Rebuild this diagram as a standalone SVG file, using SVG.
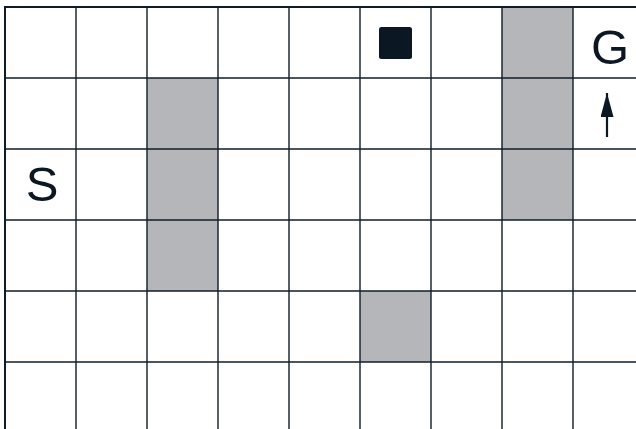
<svg xmlns="http://www.w3.org/2000/svg" width="636" height="429" viewBox="0 0 636 429">
<style>
.grid line{stroke:#0f1c28;stroke-width:1.4}
.wall{fill:#b5b6b9}
.lbl{font-family:"Liberation Sans",Arial,sans-serif;font-size:49px;fill:#0b1723;text-anchor:middle}
</style>
<defs>
<marker id="ah" viewBox="0 0 24 13" refX="24" refY="6.5" markerWidth="24" markerHeight="13" markerUnits="userSpaceOnUse" orient="auto">
<path d="M0,0 L24,6.5 L0,13 Z" fill="#0b1723"/>
</marker>
</defs>
<rect x="0" y="0" width="636" height="429" fill="#ffffff"/>
<g id="walls">
<rect class="wall" x="147" y="78" width="71" height="213"/>
<rect class="wall" x="502" y="7" width="71" height="213"/>
<rect class="wall" x="360" y="291" width="71" height="71"/>
</g>
<g class="grid" id="grid">
<line x1="5" y1="7" x2="5" y2="429" style="stroke-width:2"/>
<line x1="76" y1="7" x2="76" y2="429"/>
<line x1="147" y1="7" x2="147" y2="429"/>
<line x1="218" y1="7" x2="218" y2="429"/>
<line x1="289" y1="7" x2="289" y2="429"/>
<line x1="360" y1="7" x2="360" y2="429"/>
<line x1="431" y1="7" x2="431" y2="429"/>
<line x1="502" y1="7" x2="502" y2="429"/>
<line x1="573" y1="7" x2="573" y2="429"/>
<line x1="4" y1="7" x2="636" y2="7" style="stroke-width:2"/>
<line x1="5" y1="78" x2="636" y2="78"/>
<line x1="5" y1="149" x2="636" y2="149"/>
<line x1="5" y1="220" x2="636" y2="220"/>
<line x1="5" y1="291" x2="636" y2="291"/>
<line x1="5" y1="362" x2="636" y2="362"/>
</g>
<g id="agent">
<rect x="379" y="27" width="33" height="32" rx="2.5" fill="#0b1723"/>
</g>
<g id="start">
<text class="lbl" x="42" y="201">S</text>
</g>
<g id="goal">
<text class="lbl" x="610" y="63.5">G</text>
</g>
<g id="connectors">
<line x1="607" y1="137" x2="607" y2="93" stroke="#0b1723" stroke-width="2.2" marker-end="url(#ah)"/>
</g>
</svg>
